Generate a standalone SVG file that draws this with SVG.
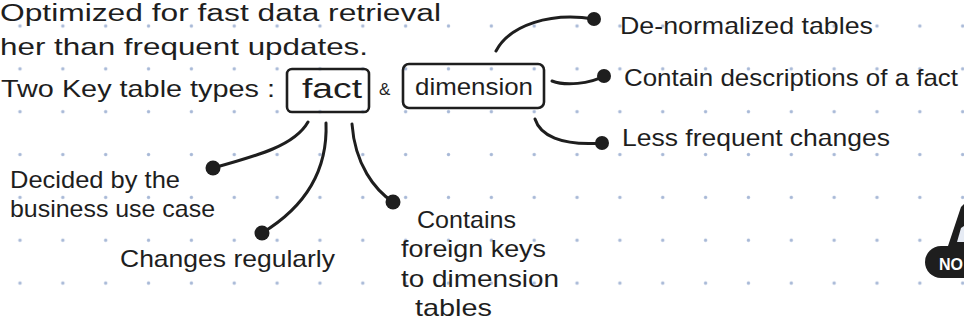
<svg xmlns="http://www.w3.org/2000/svg" width="964" height="322" viewBox="0 0 964 322">
  <style>
    .t { font-family: "Liberation Sans", Arial, sans-serif; font-size: 24px; fill: #1e1e1e; }
    .box { fill: none; stroke: #1e1e1e; stroke-width: 2.6; }
    .con { fill: none; stroke: #1e1e1e; stroke-width: 3; stroke-linecap: round; }
    .dot { fill: #1e1e1e; }
  </style>
  <defs>
    <pattern id="grid" patternUnits="userSpaceOnUse" x="-1.425" y="4.575" width="42.85" height="42.85">
      <circle cx="21.425" cy="21.425" r="1.7" fill="#a8b9d7"/>
    </pattern>
  </defs>
  <rect x="0" y="0" width="964" height="322" fill="#ffffff"/>
  <rect x="0" y="0" width="964" height="322" fill="url(#grid)"/>

  <g id="intro">
    <text class="t" x="0" y="21" textLength="441" lengthAdjust="spacingAndGlyphs" style="font-size:23px">Optimized for fast data retrieval</text>
    <text class="t" x="0" y="55" textLength="368" lengthAdjust="spacingAndGlyphs">her than frequent updates.</text>
    <text class="t" x="1" y="97" textLength="274" lengthAdjust="spacingAndGlyphs">Two Key table types :</text>
    <text class="t" x="379" y="95" style="font-size:17px">&amp;</text>
  </g>

  <g id="fact">
    <rect class="box" x="287" y="69" width="82" height="43" rx="5"/>
    <text class="t" x="302" y="98" textLength="60" lengthAdjust="spacingAndGlyphs" style="font-size:27px">fact</text>
  </g>

  <g id="dimension">
    <rect class="box" x="403" y="64" width="141" height="44" rx="6"/>
    <text class="t" x="415" y="95" textLength="118" lengthAdjust="spacingAndGlyphs">dimension</text>
  </g>

  <g id="connectors">
    <path class="con" d="M496,51 C510,25 550,12 594,19"/>
    <circle class="dot" cx="594" cy="19" r="7"/>
    <path class="con" d="M552,81 C565,86 590,84 604,76"/>
    <circle class="dot" cx="604" cy="76" r="7"/>
    <path class="con" d="M535,119 C540,135 560,146 602,143"/>
    <circle class="dot" cx="602" cy="143" r="7"/>
    <path class="con" d="M308,122 C295,145 260,155 213,168"/>
    <circle class="dot" cx="213" cy="168" r="7.5"/>
    <path class="con" d="M326,123 C328,175 300,210 262,233"/>
    <circle class="dot" cx="262" cy="233" r="7.5"/>
    <path class="con" d="M352,124 C355,165 375,190 393,202"/>
    <circle class="dot" cx="393" cy="202" r="7.5"/>
  </g>

  <g id="denormalized">
    <text class="t" x="620" y="34" textLength="253" lengthAdjust="spacingAndGlyphs">De-normalized tables</text>
  </g>
  <g id="descriptions">
    <text class="t" x="624" y="86" textLength="334" lengthAdjust="spacingAndGlyphs">Contain descriptions of a fact</text>
  </g>
  <g id="less-frequent">
    <text class="t" x="622" y="146" textLength="268" lengthAdjust="spacingAndGlyphs">Less frequent changes</text>
  </g>
  <g id="decided">
    <text class="t" x="10" y="188" textLength="170" lengthAdjust="spacingAndGlyphs">Decided by the</text>
    <text class="t" x="10" y="217" textLength="205" lengthAdjust="spacingAndGlyphs">business use case</text>
  </g>
  <g id="changes-regularly">
    <text class="t" x="120" y="267" textLength="215" lengthAdjust="spacingAndGlyphs">Changes regularly</text>
  </g>
  <g id="foreign-keys">
    <text class="t" x="417" y="228" textLength="99" lengthAdjust="spacingAndGlyphs">Contains</text>
    <text class="t" x="401" y="257" textLength="145" lengthAdjust="spacingAndGlyphs">foreign keys</text>
    <text class="t" x="401" y="287" textLength="158" lengthAdjust="spacingAndGlyphs">to dimension</text>
    <text class="t" x="415" y="316" textLength="77" lengthAdjust="spacingAndGlyphs">tables</text>
  </g>

  <g id="no-badge">
    <polygon points="964,204 961,207 946,252 964,252" fill="#1e1e1e"/>
    <polygon points="961,228 964,226 964,242 957,242" fill="#e6ebf4"/>
    <rect x="925" y="246" width="60" height="32" rx="16" fill="#1e1e1e"/>
    <text x="939" y="270" textLength="24" lengthAdjust="spacingAndGlyphs" style="font-family:'Liberation Sans', Arial, sans-serif; font-size:16px; font-weight:bold; fill:#ffffff">NO</text>
  </g>
</svg>
